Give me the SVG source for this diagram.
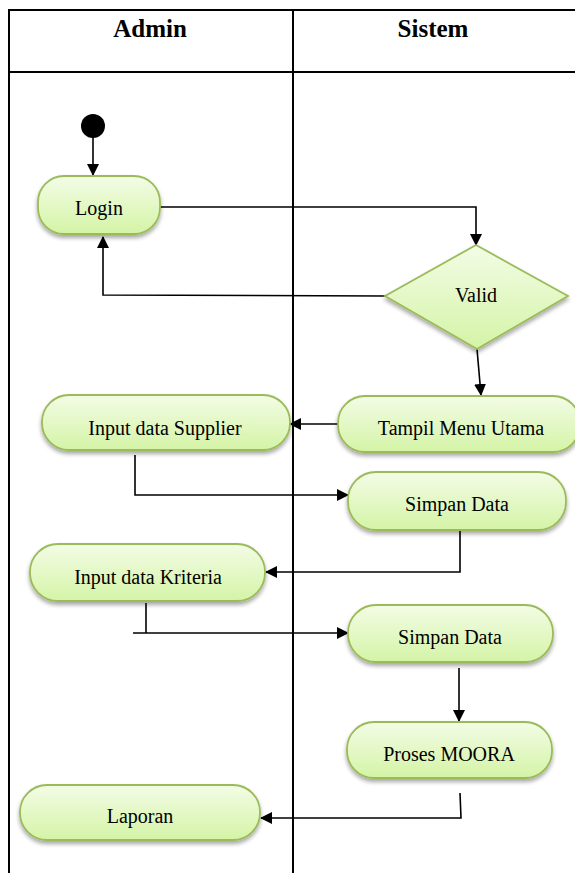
<svg xmlns="http://www.w3.org/2000/svg" width="575" height="873" viewBox="0 0 575 873">
<defs>
<linearGradient id="g" x1="0" y1="0" x2="0" y2="1">
<stop offset="0" stop-color="#f3fce6"/>
<stop offset="1" stop-color="#d4f4a6"/>
</linearGradient>
<filter id="sh" x="-10%" y="-10%" width="120%" height="140%">
<feGaussianBlur in="SourceAlpha" stdDeviation="2"/>
<feOffset dx="0" dy="3" result="b"/>
<feComponentTransfer><feFuncA type="linear" slope="0.35"/></feComponentTransfer>
<feMerge><feMergeNode/><feMergeNode in="SourceGraphic"/></feMerge>
</filter>
<marker id="ah" markerWidth="12" markerHeight="12" refX="11" refY="6" orient="auto" markerUnits="userSpaceOnUse">
<path d="M0,0 L12,6 L0,12 Z" fill="#000"/>
</marker>
</defs>
<style>
.node{fill:url(#g);stroke:#9bbb59;stroke-width:1.8;filter:url(#sh)}
text{font-family:'Liberation Serif','Times New Roman',serif;fill:#000;text-anchor:middle}
.lbl{font-size:20px}
.hdr{font-size:25px;font-weight:bold}
.ln{fill:none;stroke:#000;stroke-width:1.6}
.arr{fill:none;stroke:#000;stroke-width:1.6;marker-end:url(#ah)}
.tb{fill:none;stroke:#000;stroke-width:2}
</style>
<rect width="575" height="873" fill="#fff"/>
<g id="table">
<line class="tb" x1="8" y1="10" x2="575" y2="10"/>
<line class="tb" x1="8" y1="72" x2="575" y2="72"/>
<line class="tb" x1="9" y1="9" x2="9" y2="873"/>
<line class="tb" x1="293" y1="9" x2="293" y2="873"/>
<text class="hdr" x="150" y="37">Admin</text>
<text class="hdr" x="433" y="37">Sistem</text>
</g>
<g id="connectors">
<line class="arr" x1="93" y1="136" x2="93" y2="175"/>
<polyline class="arr" points="160,207 476,207 476,245"/>
<polyline class="arr" points="385,296 103,295 103,237"/>
<line class="arr" x1="477" y1="349" x2="481" y2="395"/>
<line class="arr" x1="338" y1="424" x2="290" y2="424"/>
<polyline class="arr" points="135,455 135,495 348,495"/>
<polyline class="arr" points="460,531 460,572 266,572"/>
<line class="ln" x1="146" y1="603" x2="146" y2="633"/>
<line class="arr" x1="133" y1="633" x2="348" y2="633"/>
<line class="arr" x1="459" y1="668" x2="459" y2="721"/>
<polyline class="arr" points="460,793 461,818 261,818"/>
</g>
<g id="start"><circle cx="93" cy="126" r="12" fill="#000"/></g>
<g id="login"><rect class="node" x="38" y="176" width="122" height="58" rx="26"/><text class="lbl" x="99" y="215">Login</text></g>
<g id="valid"><polygon class="node" points="476,245 568,296 477,349 385,296"/><text class="lbl" x="476" y="302">Valid</text></g>
<g id="tampil"><rect class="node" x="338" y="396" width="242" height="56" rx="27"/><text class="lbl" x="461" y="435">Tampil Menu Utama</text></g>
<g id="inputSupplier"><rect class="node" x="42" y="395" width="248" height="55" rx="27"/><text class="lbl" x="165" y="435">Input data Supplier</text></g>
<g id="simpan1"><rect class="node" x="348" y="472" width="218" height="58" rx="28"/><text class="lbl" x="457" y="511">Simpan Data</text></g>
<g id="inputKriteria"><rect class="node" x="30" y="544" width="235" height="57" rx="28"/><text class="lbl" x="148" y="584">Input data Kriteria</text></g>
<g id="simpan2"><rect class="node" x="348" y="605" width="205" height="57" rx="28"/><text class="lbl" x="450" y="644">Simpan Data</text></g>
<g id="moora"><rect class="node" x="347" y="722" width="205" height="56" rx="27"/><text class="lbl" x="449" y="761">Proses MOORA</text></g>
<g id="laporan"><rect class="node" x="20" y="785" width="240" height="55" rx="27"/><text class="lbl" x="140" y="823">Laporan</text></g>
</svg>
